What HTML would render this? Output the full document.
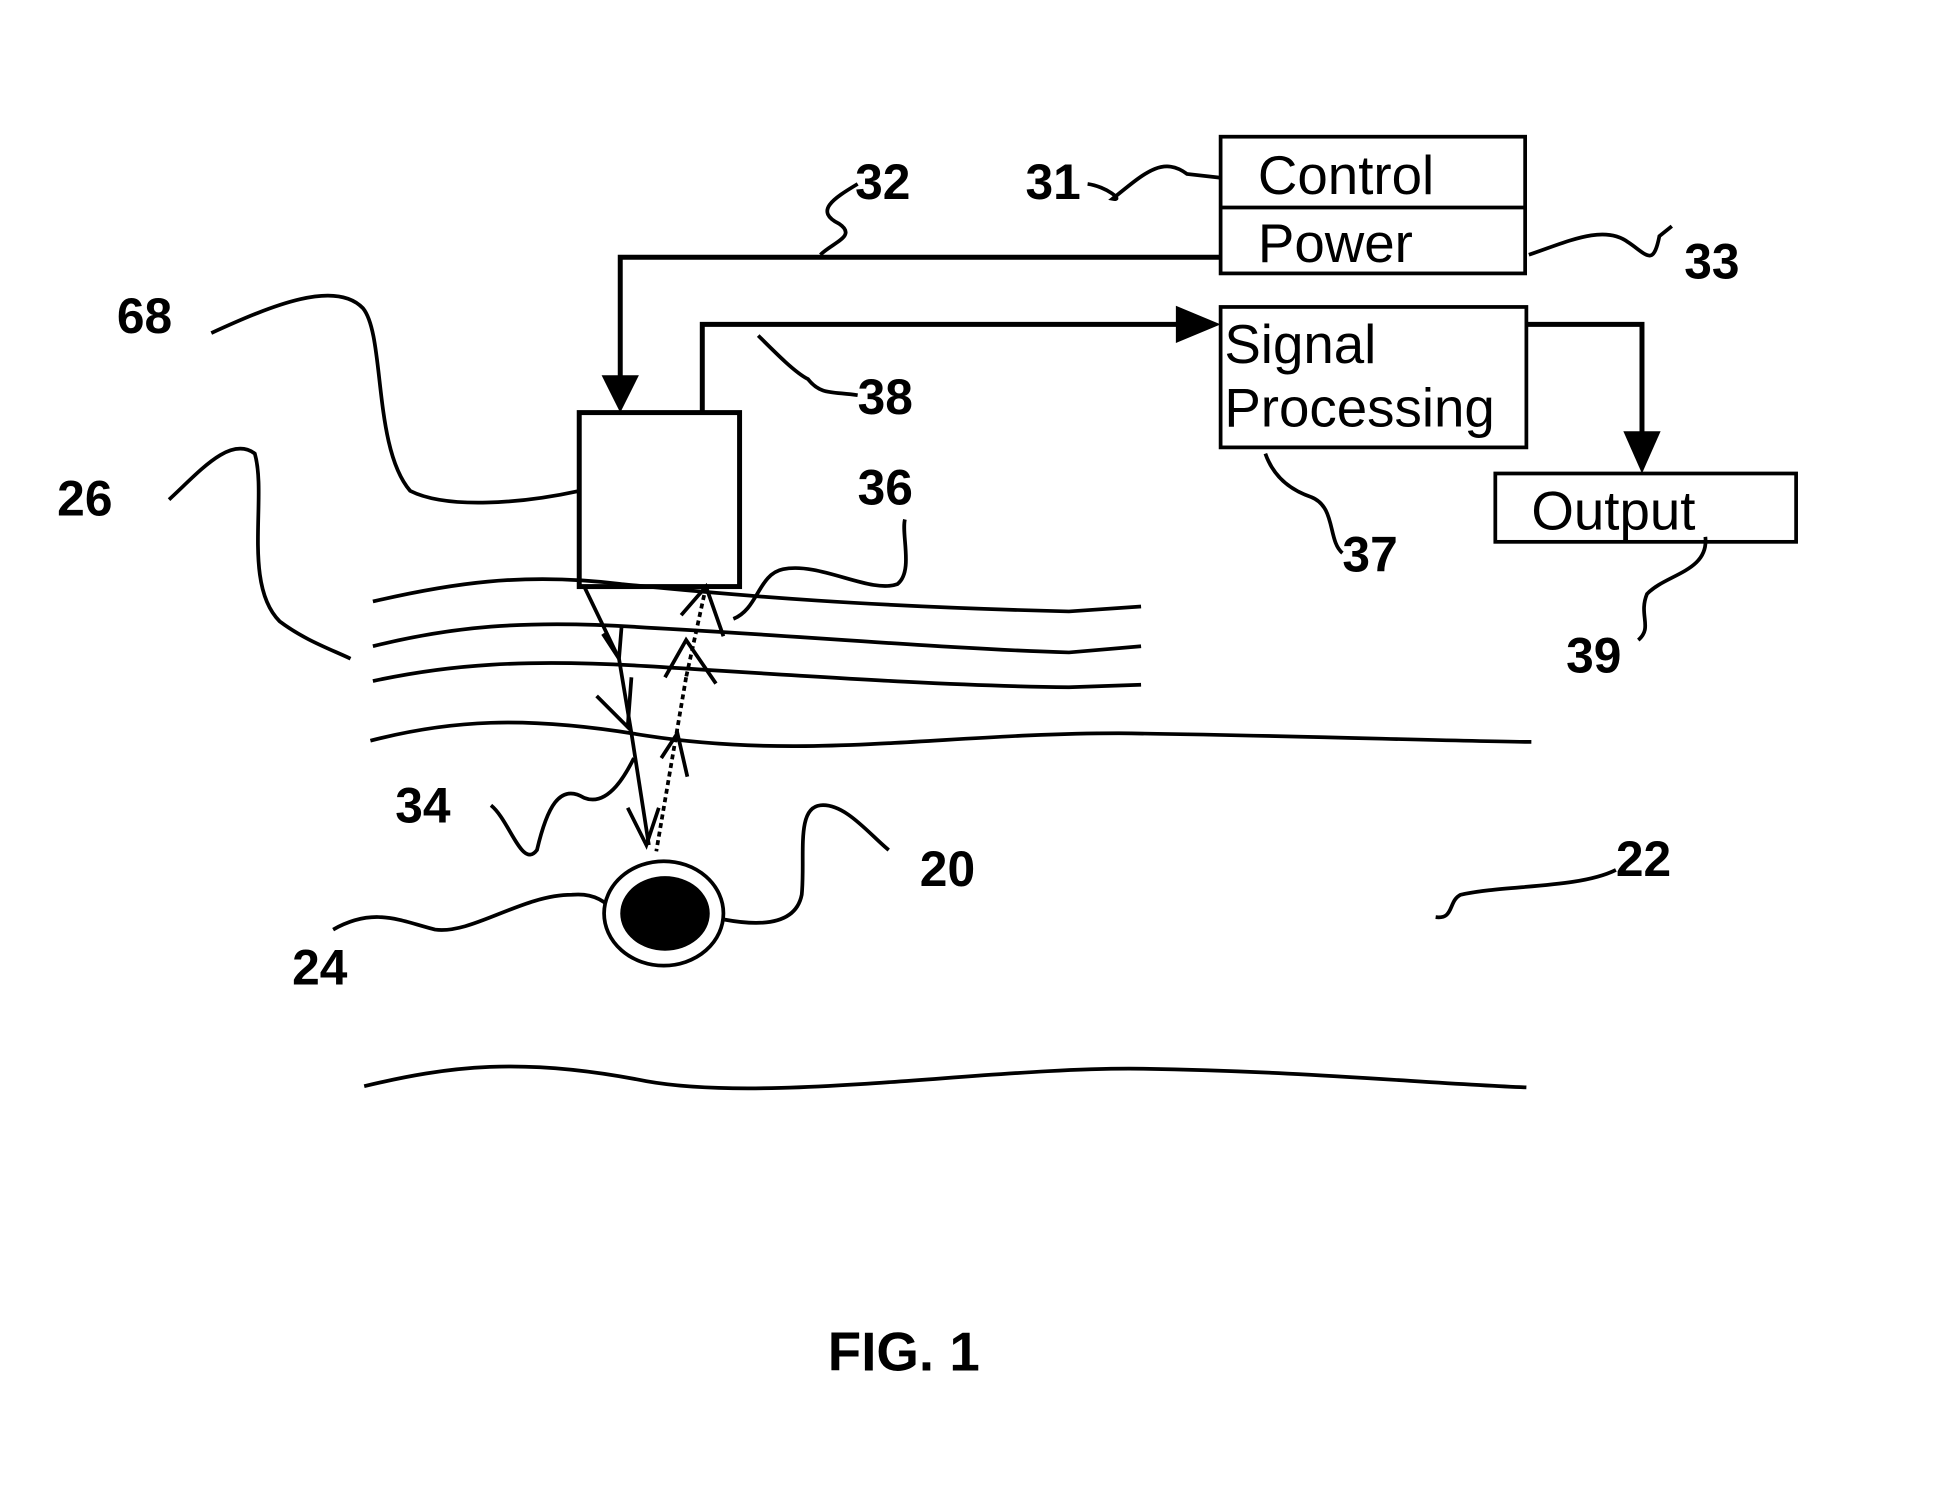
<!DOCTYPE html>
<html><head><meta charset="utf-8"><style>
html,body{margin:0;padding:0;background:#fff;}
svg{display:block;}
text{font-family:"Liberation Sans",Arial,sans-serif;fill:#000;}
.n{font-weight:bold;font-size:40px;}
.b{font-size:44px;}
</style></head><body>
<svg width="1949" height="1500" viewBox="0 0 1568 1207" preserveAspectRatio="none" xmlns="http://www.w3.org/2000/svg">
<g fill="none" stroke="#000" stroke-width="3">
<rect x="982" y="110" width="245" height="110"/>
<line x1="982" y1="167" x2="1227" y2="167"/>
<rect x="982" y="247" width="246" height="113"/>
<rect x="1203" y="381" width="242" height="55"/>
<rect x="466" y="332" width="129" height="140" stroke-width="4"/>
<polyline points="982,207 499,207 499,305" stroke-width="4"/>
<polyline points="565,332 565,261 950,261" stroke-width="4"/>
<polyline points="1228,261 1321,261 1321,350" stroke-width="4"/>
<path d="M300,484 C360,470 420,460 500,470 C600,480 700,488 860,492 L918,488"/>
<path d="M300,520 C360,505 420,498 520,505 C650,512 760,522 860,525 L918,520"/>
<path d="M300,548 C360,535 420,530 520,536 C650,544 760,552 860,553 L918,551"/>
<path d="M298,596 C360,580 420,575 520,592 C650,612 760,590 900,590 C1050,592 1150,596 1232,597"/>
<path d="M293,874 C360,858 420,850 520,870 C620,888 800,858 920,860 C1050,862 1150,872 1228,875"/>
<path d="M170,268 C220,245 270,225 292,248 C310,270 300,360 330,395 C360,410 420,405 466,395"/>
<path d="M136,402 C160,380 185,350 205,365 C215,400 195,470 225,500 C245,515 265,522 282,530"/>
<path d="M590,498 C610,490 610,462 630,458 C660,452 700,478 722,470 C735,460 725,430 728,418"/>
<path d="M395,648 C410,660 420,700 432,684 C440,650 450,630 470,642 C490,650 505,620 510,610"/>
<path d="M583,740 C610,745 640,745 645,720 C648,690 640,650 660,648 C680,646 700,672 715,684"/>
<path d="M268,748 C300,730 320,740 350,748 C380,752 420,720 460,720 C480,718 490,728 495,735"/>
<path d="M1155,738 C1170,740 1165,725 1175,720 C1210,712 1270,715 1300,700"/>
<path d="M1018,365 C1025,385 1040,395 1055,400 C1075,408 1068,435 1080,445"/>
<path d="M1372,432 C1375,460 1340,462 1325,478 C1318,495 1330,505 1318,515"/>
<path d="M1230,205 C1260,195 1290,180 1310,195 C1325,205 1330,215 1335,190 L1345,182"/>
<path d="M875,148 C890,150 905,162 895,160 C920,140 935,125 955,140 L982,143"/>
<path d="M660,205 C670,195 690,190 675,180 C655,170 670,160 690,148"/>
<path d="M610,270 C625,285 640,300 650,305 C660,318 670,315 690,318"/>
<g stroke-width="3">
<line x1="470" y1="472" x2="498" y2="530"/>
<polyline points="485,510 498,530 500,505"/>
<line x1="498" y1="530" x2="508" y2="590"/>
<polyline points="480,560 505,585 508,545"/>
<line x1="508" y1="590" x2="522" y2="680"/>
<polyline points="505,650 520,680 530,650"/>
<line x1="568" y1="472" x2="552" y2="545" stroke-dasharray="4,3"/>
<polyline points="548,495 568,472 582,512"/>
<polyline points="535,545 552,515 576,550"/>
<line x1="552" y1="545" x2="528" y2="685" stroke-dasharray="4,3"/>
<polyline points="532,610 545,590 553,625"/>
</g>
</g>
<ellipse cx="534" cy="735" rx="48" ry="42" fill="#fff" stroke="#000" stroke-width="3"/>
<ellipse cx="535" cy="735" rx="36" ry="30" fill="#000"/>
<path d="M484,302 L514,302 L499,332 z" fill="#000"/>
<path d="M946,246 L982,261 L946,276 z" fill="#000"/>
<path d="M1306,347 L1336,347 L1321,381 z" fill="#000"/>
<text class="b" x="1012" y="156">Control</text>
<text class="b" x="1012" y="211">Power</text>
<text class="b" x="985" y="292">Signal</text>
<text class="b" x="985" y="343">Processing</text>
<text class="b" x="1232" y="426">Output</text>
<text class="n" x="688" y="160">32</text>
<text class="n" x="825" y="160">31</text>
<text class="n" x="1355" y="224">33</text>
<text class="n" x="94" y="268">68</text>
<text class="n" x="690" y="333">38</text>
<text class="n" x="46" y="415">26</text>
<text class="n" x="690" y="406">36</text>
<text class="n" x="1080" y="460">37</text>
<text class="n" x="1260" y="541">39</text>
<text class="n" x="318" y="662">34</text>
<text class="n" x="740" y="713">20</text>
<text class="n" x="1300" y="705">22</text>
<text class="n" x="235" y="792">24</text>
<text class="n" x="666" y="1103" style="font-size:44px">FIG. 1</text>
</svg>
</body></html>
